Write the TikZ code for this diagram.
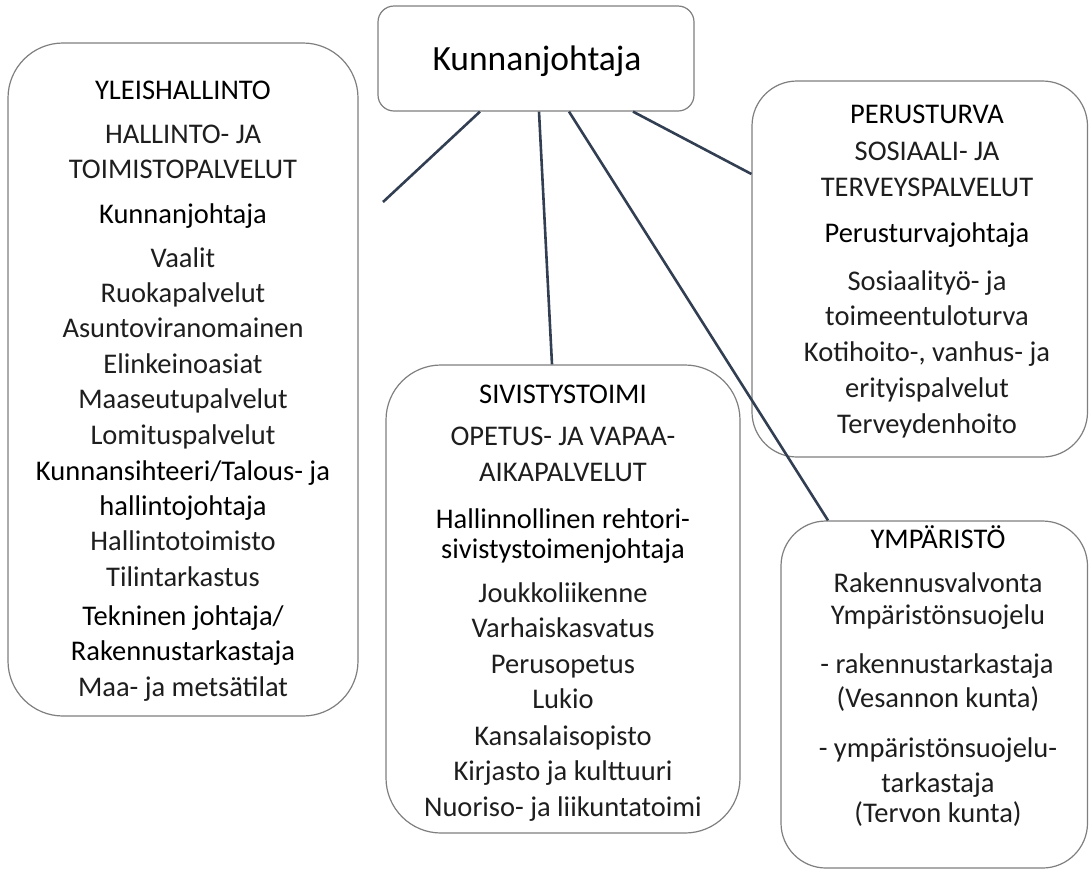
\documentclass[tikz,border=0pt]{standalone}
\usepackage{fontspec}
\setmainfont{Carlito}
\definecolor{conncol}{HTML}{323F53}
\definecolor{boxcol}{HTML}{7F7F7F}
\definecolor{ltcol}{HTML}{1E1E1E}
\begin{document}
\begin{tikzpicture}[x=1pt,y=-1pt,
  box/.style={draw=boxcol, line width=1.2pt, fill=white, inner sep=0pt, rectangle},
  hd/.style={anchor=base, inner sep=0pt, font=\fontsize{28.5}{34}\selectfont},
  lt/.style={anchor=base, inner sep=0pt, text=ltcol, font=\fontsize{28.5}{34}\selectfont},
  conn/.style={draw=conncol, line width=2.6pt}]
\useasboundingbox (0,0) rectangle (1089,871);

% boxes
\node[box, minimum width=316pt, minimum height=105pt, rounded corners=16pt] (top) at (536,58.5) {};
\node[box, minimum width=350pt, minimum height=673pt, rounded corners=55pt] (yl) at (183,379.5) {};
\node[box, minimum width=354pt, minimum height=468pt, rounded corners=55pt] (siv) at (563,599) {};
\node[box, minimum width=335.5pt, minimum height=376pt, rounded corners=45pt] (per) at (919.75,269) {};
\node[box, minimum width=306.5pt, minimum height=347pt, rounded corners=45pt] (ymp) at (934.25,694.5) {};

% top text
\node[hd, font=\fontsize{35.5}{40}\selectfont] (top1) at (537,70) {Kunnanjohtaja};

% Yleishallinto
\node[hd] (yl1) at (183,99) {YLEISHALLINTO};
\node[lt] (yl2) at (183,143) {HALLINTO- JA};
\node[lt] (yl3) at (183,178) {TOIMISTOPALVELUT};
\node[hd] (yl4) at (183,223) {Kunnanjohtaja};
\node[lt] (yl5) at (183,267) {Vaalit};
\node[lt] (yl6) at (183,302) {Ruokapalvelut};
\node[lt] (yl7) at (183,337) {Asuntoviranomainen};
\node[lt] (yl8) at (183,373) {Elinkeinoasiat};
\node[lt] (yl9) at (183,408) {Maaseutupalvelut};
\node[lt] (yl10) at (183,444) {Lomituspalvelut};
\node[hd] (yl11) at (183,480) {Kunnansihteeri/Talous- ja};
\node[hd] (yl12) at (183,515) {hallintojohtaja};
\node[lt] (yl13) at (183,550) {Hallintotoimisto};
\node[lt] (yl14) at (183,586) {Tilintarkastus};
\node[hd] (yl15) at (183,625) {Tekninen johtaja/};
\node[hd] (yl16) at (183,660) {Rakennustarkastaja};
\node[lt] (yl17) at (183,696) {Maa- ja metsätilat};

% Sivistystoimi
\node[hd] (siv1) at (563,403) {SIVISTYSTOIMI};
\node[lt] (siv2) at (563,445.5) {OPETUS- JA VAPAA-};
\node[lt] (siv3) at (563,481) {AIKAPALVELUT};
\node[hd] (siv4) at (563,528.5) {Hallinnollinen rehtori-};
\node[hd] (siv5) at (563,558.5) {sivistystoimenjohtaja};
\node[lt] (siv6) at (563,602) {Joukkoliikenne};
\node[lt] (siv7) at (563,637.5) {Varhaiskasvatus};
\node[lt] (siv8) at (563,673) {Perusopetus};
\node[lt] (siv9) at (563,708.5) {Lukio};
\node[lt] (siv10) at (563,745) {Kansalaisopisto};
\node[lt] (siv11) at (563,780.5) {Kirjasto ja kulttuuri};
\node[lt] (siv12) at (563,816) {Nuoriso- ja liikuntatoimi};

% Perusturva
\node[hd] (per1) at (927,123) {PERUSTURVA};
\node[lt] (per2) at (927,160) {SOSIAALI- JA};
\node[lt] (per3) at (927,196) {TERVEYSPALVELUT};
\node[hd] (per4) at (927,242.5) {Perusturvajohtaja};
\node[lt] (per5) at (927,290) {Sosiaalityö- ja};
\node[lt] (per6) at (927,325.5) {toimeentuloturva};
\node[lt] (per7) at (927,361.5) {Kotihoito-, vanhus- ja};
\node[lt] (per8) at (927,397) {erityispalvelut};
\node[lt] (per9) at (927,433) {Terveydenhoito};

% Ymparisto
\node[hd] (ymp1) at (938,548.5) {YMPÄRISTÖ};
\node[lt] (ymp2) at (938,592) {Rakennusvalvonta};
\node[lt] (ymp3) at (938,624.5) {Ympäristönsuojelu};
\node[lt] (ymp4) at (937,673.5) {- rakennustarkastaja};
\node[lt] (ymp5) at (938,707) {(Vesannon kunta)};
\node[lt] (ymp6) at (938,757.5) {- ympäristönsuojelu-};
\node[lt] (ymp7) at (938,792) {tarkastaja};
\node[lt] (ymp8) at (938,822) {(Tervon kunta)};

% connectors
\coordinate (c1) at (383,202);
\draw[conn] ([xshift=-56pt]top.south) -- (c1);
\draw[conn] ([xshift=3pt]top.south) -- ([xshift=-11pt]siv.north);
\draw[conn] ([xshift=33pt]top.south) -- ([xshift=-106.25pt]ymp.north);
\draw[conn] ([xshift=97pt]top.south) -- ([yshift=95pt]per.west);
\end{tikzpicture}
\end{document}
